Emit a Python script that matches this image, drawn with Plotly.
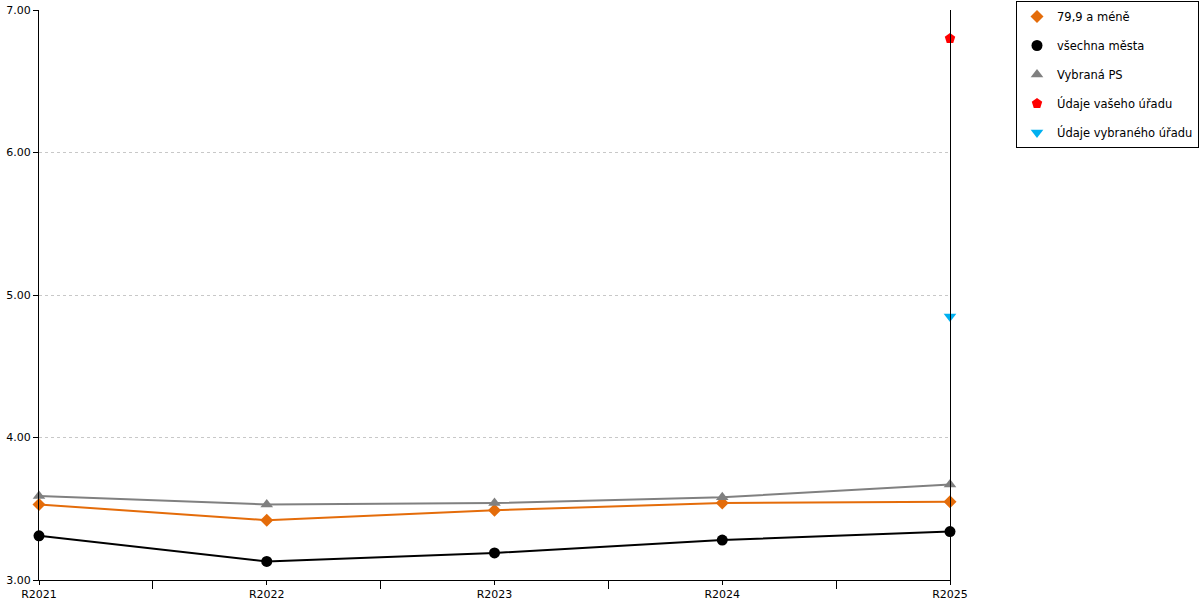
import plotly.graph_objects as go

categories = ["R2021", "R2022", "R2023", "R2024", "R2025"]
s_orange = [3.53, 3.42, 3.49, 3.54, 3.55]
s_black = [3.31, 3.13, 3.19, 3.28, 3.34]
s_grey = [3.59, 3.53, 3.54, 3.58, 3.67]
vas_urad = [None, None, None, None, 6.80]
vybrany_urad = [None, None, None, None, 4.85]
y_ticks = [3, 4, 5, 6, 7]

x = list(range(len(categories)))

series = [
    ("79,9 a méně", s_orange, "#E46C0A", "diamond", 10, "lines+markers"),
    ("všechna města", s_black, "#000000", "circle", 11, "lines+markers"),
    ("Vybraná PS", s_grey, "#808080", "triangle-up", 11, "lines+markers"),
    ("Údaje vašeho úřadu", vas_urad, "#FF0000", "pentagon", 11, "markers"),
    ("Údaje vybraného úřadu", vybrany_urad, "#00B0F0", "triangle-down", 11, "markers"),
]

fig = go.Figure()
for i, (name, vals, color, sym, size, mode) in enumerate(series):
    fig.add_trace(go.Scatter(x=x, y=vals, name=name, mode=mode,
                             line=dict(color=color, width=2),
                             marker=dict(symbol=sym, size=size, color=color),
                             cliponaxis=False, showlegend=False,
                             legendgroup="g%d" % i))
    # legend entry showing the marker only
    fig.add_trace(go.Scatter(x=[None], y=[None], name=name, mode="markers",
                             marker=dict(symbol=sym, size=size, color=color),
                             showlegend=True, legendgroup="g%d" % i))

fig.update_layout(
    width=1200, height=600,
    margin=dict(l=39, r=250, t=10, b=20, autoexpand=False),
    paper_bgcolor="white", plot_bgcolor="white",
    font=dict(family="DejaVu Sans", size=11, color="#000000"),
    showlegend=True,
    legend=dict(x=(1016 - 39) / 911, y=(580 - 1) / 570, xanchor="left", yanchor="top",
                bordercolor="#000000", borderwidth=1, bgcolor="white",
                font=dict(size=11.5), tracegroupgap=10, itemwidth=30),
)
fig.update_xaxes(range=[0, 4], tickvals=x, ticktext=categories,
                 showline=True, linecolor="#000000", linewidth=1,
                 ticks="outside", ticklen=4, tickcolor="#000000",
                 showgrid=False, zeroline=False, automargin=False,
                 minor=dict(tickvals=[0.5, 1.5, 2.5, 3.5], ticks="outside",
                            ticklen=8, tickcolor="#000000", showgrid=False))
fig.update_yaxes(range=[3, 7], tickvals=y_ticks, tickformat=".2f",
                 showline=True, mirror=True, linecolor="#000000", linewidth=1,
                 ticks="outside", ticklen=5, tickcolor="#000000",
                 showgrid=True, gridcolor="#C8C8C8", griddash="dot", gridwidth=1,
                 zeroline=False, automargin=False)

fig.write_html("out.html", config={"displayModeBar": False},
               post_script="document.body.style.margin='0';document.body.style.overflow='hidden';")
